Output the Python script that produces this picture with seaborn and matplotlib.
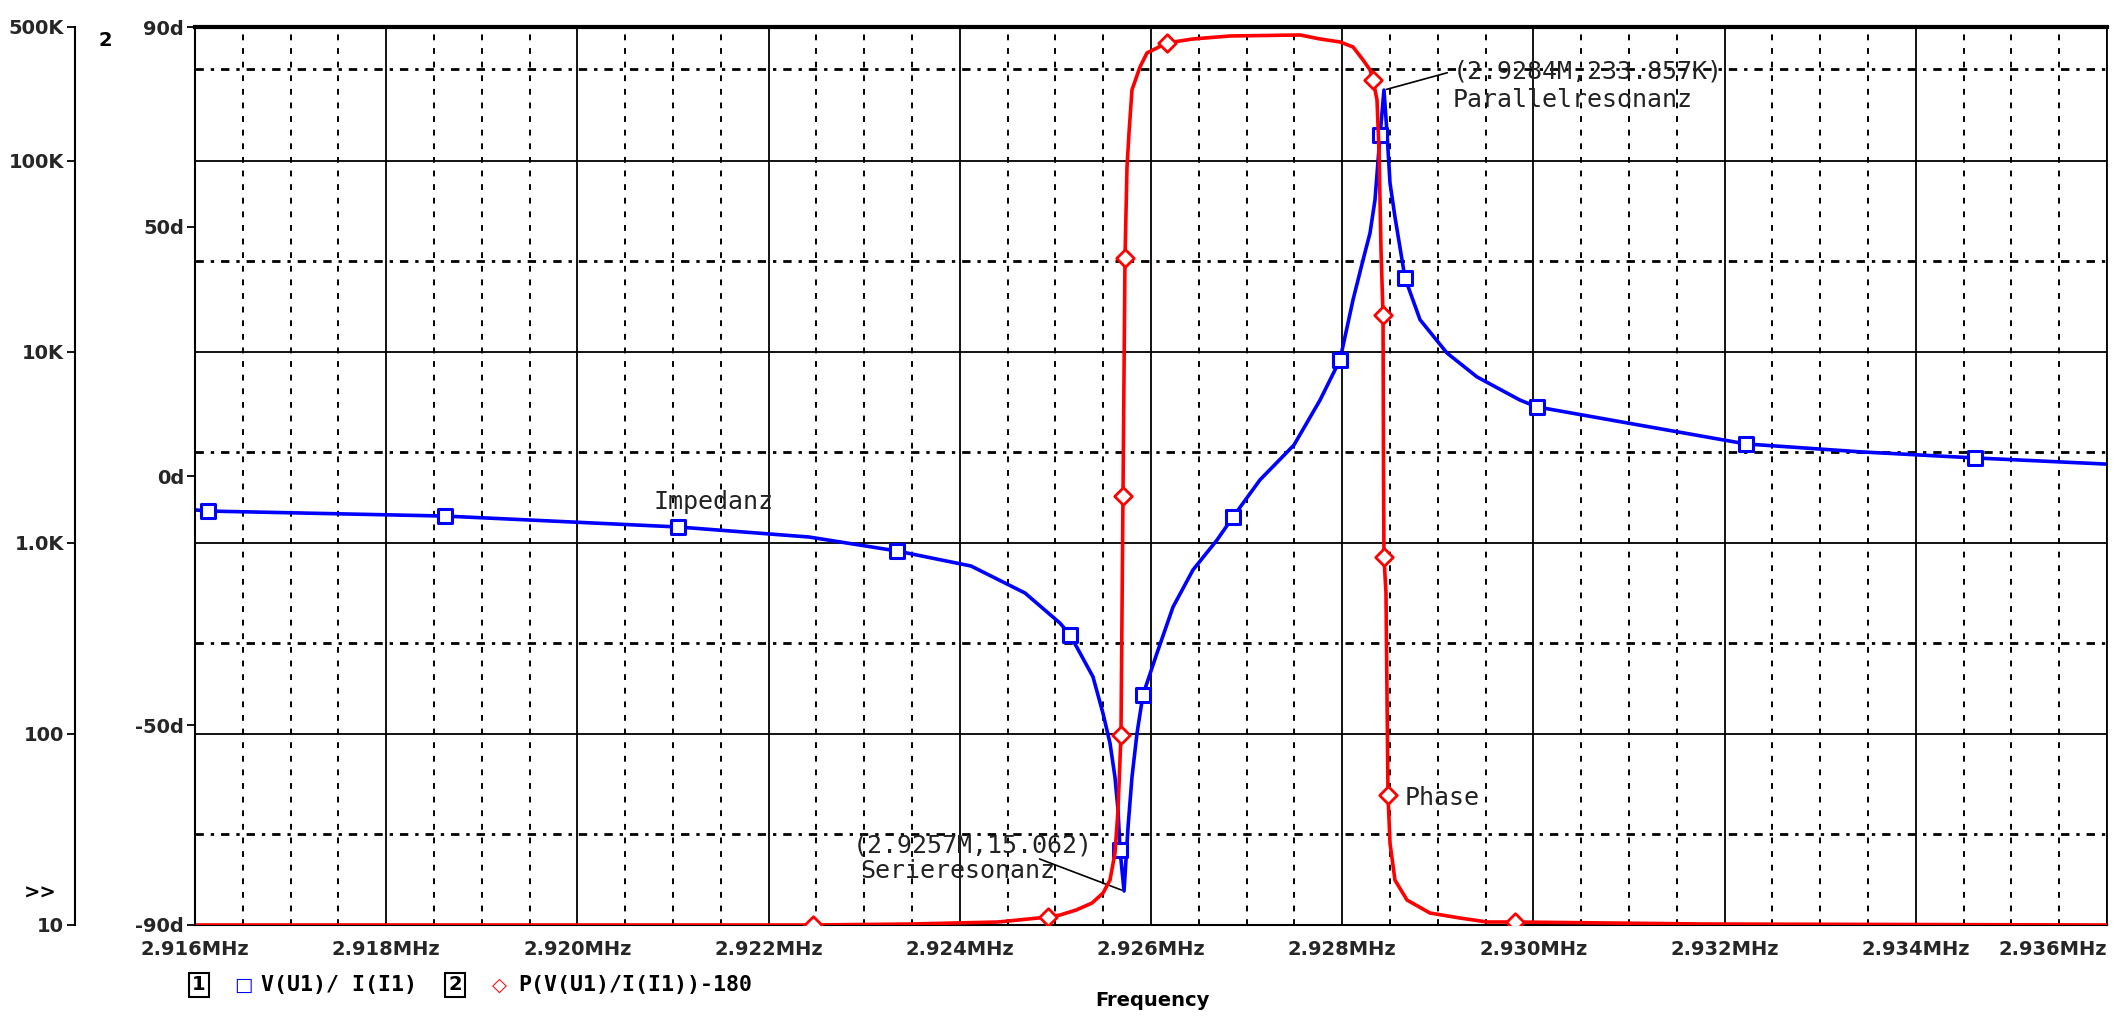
import numpy as np
import pandas as pd
import seaborn as sns
import matplotlib.pyplot as plt
import matplotlib.ticker as mticker

# Impedanz |V(U1)/I(I1)| (Ohm) vs. Frequenz (MHz)
imp_freq = [2.916000, 2.916136, 2.918615, 2.921052, 2.922423, 2.923343, 2.924117,
            2.924682, 2.925048, 2.925153, 2.925393, 2.925498, 2.925571, 2.925623,
            2.925655, 2.925676, 2.925718, 2.925760, 2.925801, 2.925854, 2.925916,
            2.926063, 2.926230, 2.926439, 2.926691, 2.926858, 2.927140, 2.927496,
            2.927768, 2.927977, 2.928113, 2.928218, 2.928291, 2.928343, 2.928396,
            2.928437, 2.928469, 2.928500, 2.928552, 2.928657, 2.928814, 2.929096,
            2.929410, 2.929860, 2.930038, 2.931167, 2.932224, 2.933427, 2.934619,
            2.936000]
imp_ohm = [1486, 1466, 1380, 1210, 1072, 906, 756,
           546, 380, 330, 199, 128, 89.5, 59.4,
           40.0, 24.7, 15.062, 32.6, 59.4, 101, 160,
           265, 461, 721, 1035, 1365, 2134, 3250,
           5580, 9060, 18660, 30200, 41800, 62200, 136000,
           233857, 139000, 76400, 50700, 24300, 14700, 9840,
           7380, 5580, 5140, 4080, 3290, 2990, 2780,
           2580]
imp_mark_f = [2.916136, 2.918615, 2.921052, 2.923343, 2.925153, 2.925676, 2.925916,
              2.926858, 2.927977, 2.928396, 2.928657, 2.930038, 2.932224, 2.934619]
imp_mark_z = [1466, 1380, 1210, 906, 330, 24.7, 160,
              1365, 9060, 136000, 24300, 5140, 3290, 2780]

# Phase P(V(U1)/I(I1))-180 in Grad
ph_freq = [2.916000, 2.922465, 2.923500, 2.924400, 2.924923, 2.925048, 2.925216,
           2.925383, 2.925498, 2.925571, 2.925623, 2.925655, 2.925686, 2.925707,
           2.925728, 2.925749, 2.925770, 2.925801, 2.925885, 2.925958, 2.926167,
           2.926439, 2.926826, 2.927559, 2.927768, 2.927977, 2.928113, 2.928218,
           2.928291, 2.928322, 2.928364, 2.928385, 2.928406, 2.928427, 2.928432,
           2.928437, 2.928458, 2.928479, 2.928500, 2.928552, 2.928678, 2.928918,
           2.929232, 2.929515, 2.929808, 2.931795, 2.936000]
ph_deg = [-90.0, -90.0, -89.8, -89.4, -88.4, -88.0, -87.0,
          -85.6, -83.6, -81.0, -75.6, -67.0, -51.9, -4.0,
          43.7, 61.9, 68.8, 77.4, 82.0, 84.8, 86.8,
          87.6, 88.2, 88.4, 87.6, 87.0, 86.0, 83.4,
          81.4, 79.4, 75.4, 65.3, 45.3, 32.3, 1.2,
          -16.2, -23.5, -63.9, -73.6, -81.0, -85.0, -87.6,
          -88.6, -89.4, -89.4, -89.8, -90.0]
ph_mark_f = [2.922465, 2.924923, 2.925686, 2.925707, 2.925728, 2.926167,
             2.928322, 2.928427, 2.928437, 2.928479, 2.929808]
ph_mark_d = [-90.0, -88.4, -51.9, -4.0, 43.7, 86.8,
             79.4, 32.3, -16.2, -63.9, -89.4]

z_ticks = [10, 100, 1e3, 1e4, 1e5, 5e5]
z_labels = ['10', '100', '1.0K', '10K', '100K', '500K']
z_minor = [30, 300, 3e3, 3e4, 3e5]
ph_ticks = [-90, -50, 0, 50, 90]
ph_labels = ['-90d', '-50d', '0d', '50d', '90d']
f_ticks = [2.916, 2.918, 2.920, 2.922, 2.924, 2.926, 2.928, 2.930, 2.932, 2.934, 2.936]

imp = pd.DataFrame({'f': imp_freq, 'z': imp_ohm})
ph = pd.DataFrame({'f': ph_freq, 'p': ph_deg})

sns.set_style('white')
plt.rcParams['font.family'] = ['DejaVu Sans']

W, H = 2114, 1016
fig = plt.figure(figsize=(W / 100, H / 100), dpi=100)
ax = fig.add_axes([195 / W, 91 / H, 1912 / W, 898 / H])

BLUE = '#0000ff'
RED = '#ff0000'

# Impedanz-Kurve (log)
sns.lineplot(data=imp, x='f', y='z', ax=ax, color=BLUE, lw=2.6,
             sort=False, estimator=None)
sns.scatterplot(x=imp_mark_f, y=imp_mark_z, ax=ax, marker='s', s=110,
                color=BLUE, facecolor='white', edgecolor=BLUE, linewidth=2.2,
                zorder=4)
ax.set_xlabel('')
ax.set_ylabel('')

# spines first (moving a spine resets the ticks)
ax.spines['left'].set_position(('axes', -120 / 1912))
ax.spines['left'].set_linewidth(1.5)
ax.spines['left'].set_color('black')
ax.spines['top'].set_linewidth(3)
ax.spines['top'].set_color('black')
ax.spines['right'].set_linewidth(1.3)
ax.spines['right'].set_color('black')
ax.spines['bottom'].set_linewidth(1.5)
ax.spines['bottom'].set_color('black')

ax.set_yscale('log')
ax.set_xlim(2.916, 2.936)
ax.set_ylim(10, 5e5)
ax.xaxis.set_major_locator(mticker.FixedLocator(f_ticks))
ax.xaxis.set_minor_locator(mticker.MultipleLocator(0.0005))
ax.set_xticklabels([f'{v:.3f}MHz' for v in f_ticks], fontweight='bold')
ax.yaxis.set_major_locator(mticker.FixedLocator(z_ticks))
ax.yaxis.set_minor_locator(mticker.FixedLocator(z_minor))
ax.set_yticklabels(z_labels, fontweight='bold')
ax.yaxis.set_minor_formatter(mticker.NullFormatter())

ax.xaxis.grid(True, which='major', color='black', lw=1.3, ls='-')
ax.xaxis.grid(True, which='minor', color='black', lw=1.4, ls=(0, (3, 4)))
ax.yaxis.grid(True, which='major', color='black', lw=1.3, ls='-')
ax.yaxis.grid(True, which='minor', color='black', lw=2.0, ls=(0, (3, 2.5, 1.2, 2.5)))
ax.set_axisbelow(True)

ax.tick_params(axis='both', which='minor', length=0)
ax.tick_params(axis='x', which='major', direction='out', length=6, width=1.3,
               pad=5, labelsize=14, color='black')
ax.tick_params(axis='y', which='major', direction='out', length=6, width=1.3,
               pad=2, labelsize=14, color='black')
ax.get_xticklabels()[-1].set_horizontalalignment('right')

# Phase axis
ax2 = ax.twinx()
sns.lineplot(data=ph, x='f', y='p', ax=ax2, color=RED, lw=2.6,
             sort=False, estimator=None)
sns.scatterplot(x=ph_mark_f, y=ph_mark_d, ax=ax2, marker='D', s=80,
                color=RED, facecolor='white', edgecolor=RED, linewidth=2.0,
                zorder=4)
ax2.set_xlabel('')
ax2.set_ylabel('')
for s in ['right', 'top', 'bottom']:
    ax2.spines[s].set_visible(False)
ax2.spines['left'].set_visible(True)
ax2.spines['left'].set_linewidth(1.5)
ax2.spines['left'].set_color('black')
ax2.set_xlim(2.916, 2.936)
ax2.set_ylim(-90, 90)
ax2.yaxis.tick_left()
ax2.set_yticks(ph_ticks)
ax2.set_yticklabels(ph_labels, fontweight='bold')
ax2.tick_params(axis='y', direction='out', length=6, width=1.3, pad=2,
                labelsize=14, color='black')

# Annotations
mono = dict(family='DejaVu Sans Mono', fontsize=18, color='#222222')
ax.annotate('', xy=(2.925718, 15.062), xytext=(1037, H - 858),
            textcoords='figure pixels',
            arrowprops=dict(arrowstyle='-', color='black', lw=1.2))
fig.text(853 / W, 1 - 845 / H, '(2.9257M,15.062)', ha='left', va='center', **mono)
fig.text(860 / W, 1 - 871 / H, 'Serieresonanz', ha='left', va='center', **mono)

ax.annotate('', xy=(2.928437, 233857), xytext=(1450, H - 72),
            textcoords='figure pixels',
            arrowprops=dict(arrowstyle='-', color='black', lw=1.2))
fig.text(1453 / W, 1 - 72 / H, '(2.9284M,233.857K)', ha='left', va='center', **mono)
fig.text(1453 / W, 1 - 100 / H, 'Parallelresonanz', ha='left', va='center', **mono)

fig.text(653 / W, 1 - 502 / H, 'Impedanz', ha='left', va='center', **mono)
fig.text(1405 / W, 1 - 798 / H, 'Phase', ha='left', va='center', **mono)

# axis markers and legend row
bold = dict(fontsize=14, fontweight='bold', color='black')
leg = dict(family='DejaVu Sans Mono', fontsize=15.5, fontweight='bold', color='black')
fig.text(105 / W, 1 - 40 / H, '2', ha='center', va='center', **bold)
fig.text(40 / W, 1 - 893 / H, '>>', ha='center', va='center', **bold)

box = dict(boxstyle='square,pad=0.15', fc='white', ec='black', lw=1.5)
fig.text(199 / W, 1 - 985 / H, '1', ha='center', va='center', bbox=box, **bold)
fig.text(243 / W, 1 - 985 / H, '\u25a1', ha='center', va='center',
         fontsize=14, color=BLUE)
fig.text(261 / W, 1 - 985 / H, 'V(U1)/ I(I1)', ha='left', va='center', **leg)
fig.text(455 / W, 1 - 985 / H, '2', ha='center', va='center', bbox=box, **bold)
fig.text(499 / W, 1 - 985 / H, '\u25c7', ha='center', va='center',
         fontsize=14, color=RED)
fig.text(518 / W, 1 - 985 / H, 'P(V(U1)/I(I1))-180', ha='left', va='center', **leg)
fig.text(1152 / W, 1 - 1000 / H, 'Frequency', ha='center', va='center', **bold)

fig.savefig('out.png', dpi=100, facecolor='white')
